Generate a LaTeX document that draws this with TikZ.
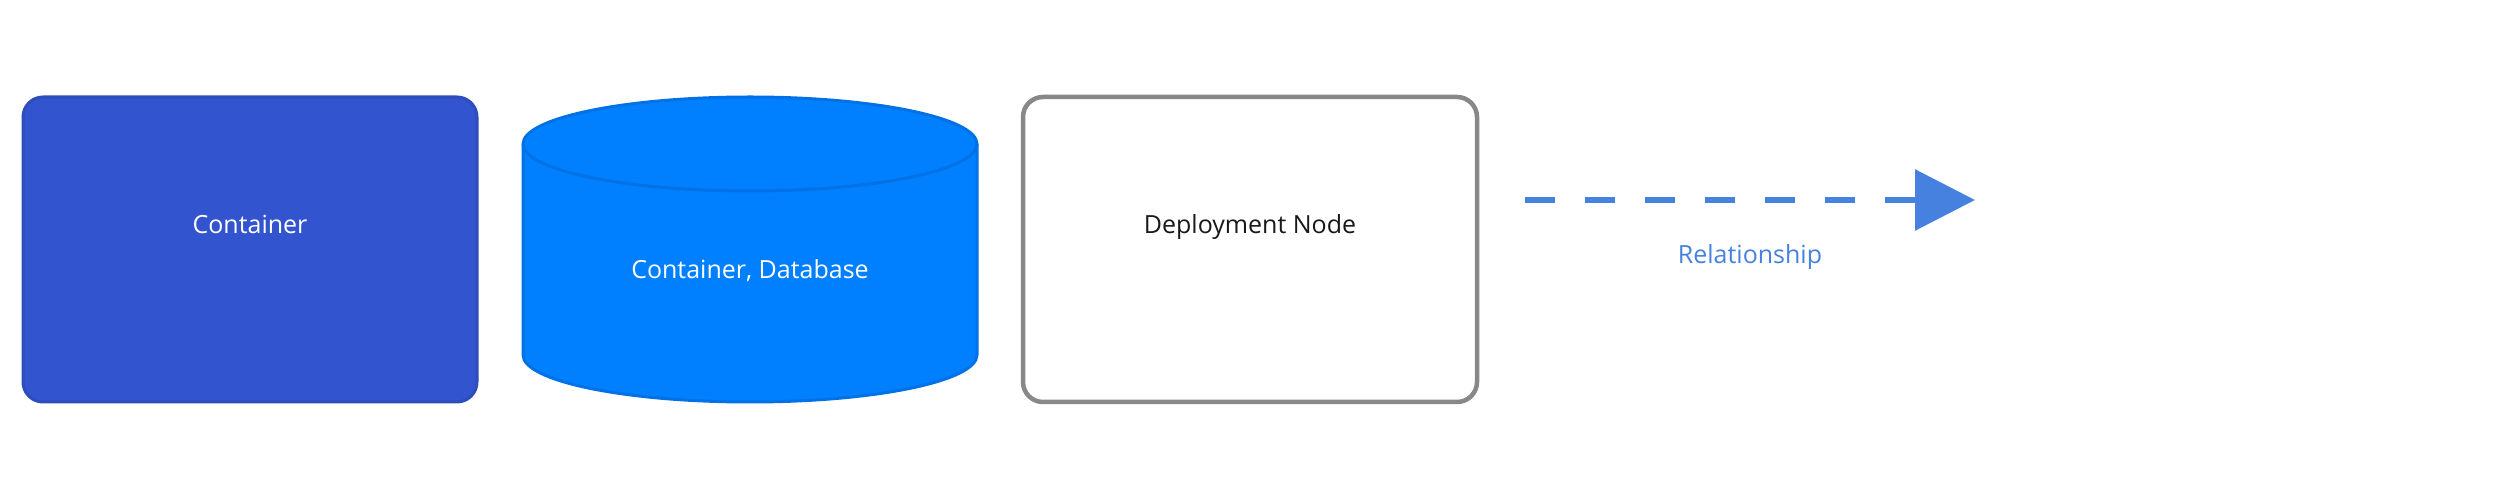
\documentclass[tikz,border=0pt]{standalone}
\usepackage{fontspec}
\setmainfont{Open Sans}
\usetikzlibrary{arrows.meta}
\definecolor{contfill}{HTML}{3254CE}
\definecolor{contdraw}{HTML}{2E4DBA}
\definecolor{dbfill}{HTML}{007FFF}
\definecolor{dbdraw}{HTML}{0072E6}
\definecolor{nodegray}{HTML}{888888}
\definecolor{relblue}{HTML}{4681DF}
\begin{document}
\begin{tikzpicture}[x=1pt,y=1pt,
  lbl/.style={font=\fontsize{25}{30}\selectfont, inner sep=0pt, anchor=base},
  boxstyle/.style={rounded corners=20pt, line width=3pt}]
\useasboundingbox (0,0) rectangle (2500,500);
% Container
\draw[boxstyle, fill=contfill, draw=contdraw] (23,98) rectangle (477,403);
\node[lbl, text=white] (cont) at (250,266) {Container};
% Database cylinder
\draw[line width=3pt, fill=dbfill, draw=dbdraw]
  (523,356) -- (523,145) arc[start angle=180,end angle=360,x radius=227,y radius=47]
  -- (977,356) arc[start angle=0,end angle=180,x radius=227,y radius=47] -- cycle;
\draw[line width=3pt, draw=dbdraw] (523,356) arc[start angle=180,end angle=360,x radius=227,y radius=47];
\node[lbl, text=white] (db) at (750,221) {Container, Database};
% Deployment node
\draw[boxstyle, line width=4.5pt, fill=white, draw=nodegray] (1023,98) rectangle (1477,403);
\node[lbl, text=black!90] (dep) at (1250,266) {Deployment Node};
% Relationship
\coordinate (rs) at (1525,300);
\coordinate (re) at (1975,300);
\draw[relblue, line width=6pt, dash pattern=on 30pt off 30pt,
  -{Triangle[length=60pt,width=60pt]}] (rs) -- (re);
\node[lbl, text=relblue] (rel) at (1750,236) {Relationship};
\end{tikzpicture}
\end{document}
